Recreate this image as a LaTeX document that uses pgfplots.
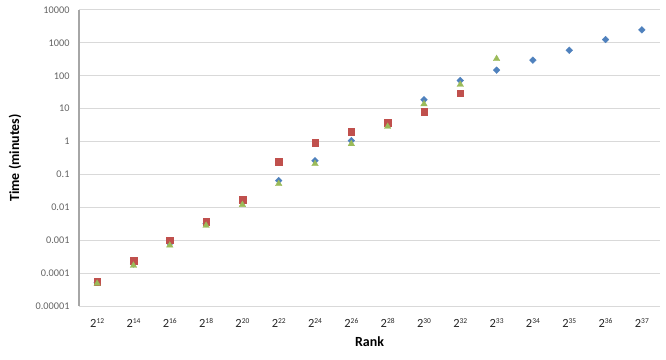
\documentclass[border=0pt]{standalone}
\usepackage{fontspec}
\setmainfont{Carlito}
\usepackage{pgfplots}
\pgfplotsset{compat=1.18}

\definecolor{serblue}{RGB}{79,129,189}
\definecolor{serred}{RGB}{192,80,77}
\definecolor{sergreen}{RGB}{155,187,89}
\definecolor{gridgray}{RGB}{217,217,217}
\definecolor{axisgray}{RGB}{166,166,166}
\definecolor{ticktext}{RGB}{100,100,100}

% power-of-two category label
\newcommand{\pw}[1]{2\raisebox{4bp}{\fontsize{7.5}{8}\selectfont #1}}

\begin{document}
\begin{tikzpicture}
\path[use as bounding box] (0,0) rectangle (666bp,360bp);
\begin{axis}[
  at={(79bp,54bp)}, anchor=south west,
  scale only axis, width=581bp, height=296bp,
  ymode=log, ymin=1e-5, ymax=1e4,
  xmin=-0.5, xmax=15.5,
  xtick={0,...,15},
  xticklabels={\pw{12},\pw{14},\pw{16},\pw{18},\pw{20},\pw{22},\pw{24},\pw{26},\pw{28},\pw{30},\pw{32},\pw{33},\pw{34},\pw{35},\pw{36},\pw{37}},
  ytick={1e-5,1e-4,1e-3,1e-2,1e-1,1,10,100,1000,10000},
  yticklabels={0.00001,0.0001,0.001,0.01,0.1,1,10,100,1000,10000},
  yminorticks=false,
  major tick length=0pt,
  axis x line*=bottom, axis y line*=left,
  x axis line style={draw=gridgray, line width=1bp, -},
  y axis line style={draw=axisgray, line width=1.3bp, -},
  ymajorgrids, grid style={draw=gridgray, line width=1bp},
  xticklabel style={anchor=base, yshift=-21bp, font=\fontsize{12.5}{14}\selectfont, text=black!85},
  yticklabel style={anchor=east, xshift=-6bp, font=\fontsize{10.3}{12}\selectfont, text=ticktext},
  xlabel={Rank}, ylabel={Time (minutes)},
  xlabel style={at={(axis description cs:0.5,-0.1216)}, anchor=center, font=\fontsize{14}{16}\selectfont\bfseries},
  ylabel style={at={(axis description cs:-0.110,0.5)}, anchor=center, font=\fontsize{14}{16}\selectfont\bfseries},
  clip=false,
]
% series 1
\addplot[only marks, mark=square*, mark size=2.4bp, mark options={rotate=45, fill=serblue, draw=serblue, line width=0.3bp}]
  coordinates {(0,5.2e-5) (1,1.9e-4) (2,8e-4) (3,3.2e-3) (4,0.014) (5,0.065) (6,0.26) (7,1.07)
               (8,3.4) (9,18.7) (10,72) (11,148) (12,298) (13,600) (14,1260) (15,2500)};
% series 2
\addplot[only marks, mark=square*, mark size=3.3bp, mark options={fill=serred, draw=serred, line width=0.3bp}]
  coordinates {(0,5.6e-5) (1,2.4e-4) (2,1.0e-3) (3,3.6e-3) (4,0.017) (5,0.24) (6,0.93) (7,2.0)
               (8,3.7) (9,8.1) (10,30)};
% series 3
\addplot[only marks, mark=triangle*, mark size=3.8bp, mark options={fill=sergreen, draw=sergreen, line width=0.3bp}]
  coordinates {(0,4.8e-5) (1,1.7e-4) (2,7e-4) (3,2.8e-3) (4,0.012) (5,0.052) (6,0.21) (7,0.85)
               (8,2.85) (9,13.8) (10,54) (11,329)};
\end{axis}
\end{tikzpicture}
\end{document}
